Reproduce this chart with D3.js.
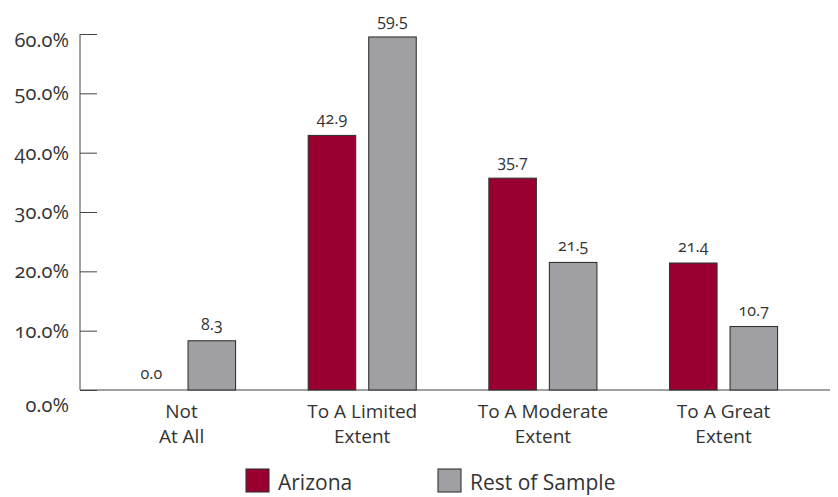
<!DOCTYPE html>
<html>
<head>
<meta charset="utf-8">
<script src="https://cdn.jsdelivr.net/npm/d3@7"></script>
<style>
  body { margin: 0; background: #fff; }
  svg text { font-family: "Open Sans", "Lato", sans-serif; fill: #333; font-feature-settings: "onum" 1; }
</style>
</head>
<body>
<div id="chart"></div>
<script>
const categories = ["Not\nAt All", "To A Limited\nExtent", "To A Moderate\nExtent", "To A Great\nExtent"];
const arizona = [0.0, 42.9, 35.7, 21.4];
const restOfSample = [8.3, 59.5, 21.5, 10.7];
const seriesNames = ["Arizona", "Rest of Sample"];
const yTicks = [0, 10, 20, 30, 40, 50, 60];

const W = 838, H = 497;
const margin = { top: 34, right: 8, bottom: 107, left: 80 };
const width = W - margin.left - margin.right;
const height = H - margin.top - margin.bottom;
const colors = ["#990030", "#a0a0a4"];

const svg = d3.select('#chart').append('svg')
  .attr('width', W).attr('height', H)
  .append('g')
  .attr('transform', `translate(${margin.left},${margin.top})`);

const x = d3.scaleBand().domain(categories)
  .range([11.4, 733.7]).paddingInner(0.402).paddingOuter(0.2);
const xs = d3.scaleBand().domain(seriesNames)
  .range([0, x.bandwidth()]).paddingInner(0.215).paddingOuter(0);
const y = d3.scaleLinear().domain([0, 60]).range([height, 0]);

// y axis with inward ticks
const yAxis = svg.append('g')
  .call(d3.axisRight(y).tickValues(yTicks).tickSize(17).tickFormat(''));
yAxis.select('.domain').attr('d', `M0,0V${height}`).attr('stroke', '#444');
yAxis.selectAll('line').attr('stroke', '#444');

svg.append('g').selectAll('text')
  .data(yTicks).enter().append('text')
  .attr('x', -11)
  .attr('y', d => y(d) + 7 + (d === 0 ? 15 : d === 60 ? 6 : 0))
  .attr('text-anchor', 'end')
  .style('font-size', '20px')
  .text(d => d.toFixed(1) + '%');

// baseline
svg.append('line')
  .attr('x1', 0).attr('x2', width)
  .attr('y1', height).attr('y2', height)
  .attr('stroke', '#444');

const groups = svg.selectAll('.grp')
  .data(categories.map((c, i) => ({ c, vals: [arizona[i], restOfSample[i]] })))
  .enter().append('g')
  .attr('transform', d => `translate(${x(d.c)},0)`);

groups.selectAll('rect')
  .data(d => d.vals.map((v, j) => ({ v, s: seriesNames[j], j })))
  .enter().append('rect')
  .attr('x', d => xs(d.s))
  .attr('width', xs.bandwidth())
  .attr('y', d => y(d.v))
  .attr('height', d => height - y(d.v))
  .attr('fill', d => colors[d.j])
  .attr('stroke', '#333')
  .attr('stroke-width', 1.1);

groups.selectAll('.val')
  .data(d => d.vals.map((v, j) => ({ v, s: seriesNames[j] })))
  .enter().append('text')
  .attr('x', d => xs(d.s) + xs.bandwidth() / 2)
  .attr('y', d => y(d.v) - 11)
  .attr('text-anchor', 'middle')
  .style('font-size', '16px')
  .text(d => d.v.toFixed(1));

groups.each(function (d) {
  const t = d3.select(this).append('text')
    .attr('text-anchor', 'middle')
    .style('font-size', '19px');
  d.c.split('\n').forEach((line, k) => {
    t.append('tspan')
      .attr('x', x.bandwidth() / 2)
      .attr('y', height + 28 + k * 25)
      .text(line);
  });
});

// legend
const legend = d3.select('svg').append('g');
const legendX = [246, 438];
seriesNames.forEach((s, j) => {
  const g = legend.append('g').attr('transform', `translate(${legendX[j]},469)`);
  g.append('rect').attr('width', 23).attr('height', 23)
    .attr('fill', colors[j]).attr('stroke', '#333').attr('stroke-width', 1.1);
  g.append('text').attr('x', 32).attr('y', 21)
    .style('font-size', '21px').text(s);
});
</script>
</body>
</html>
